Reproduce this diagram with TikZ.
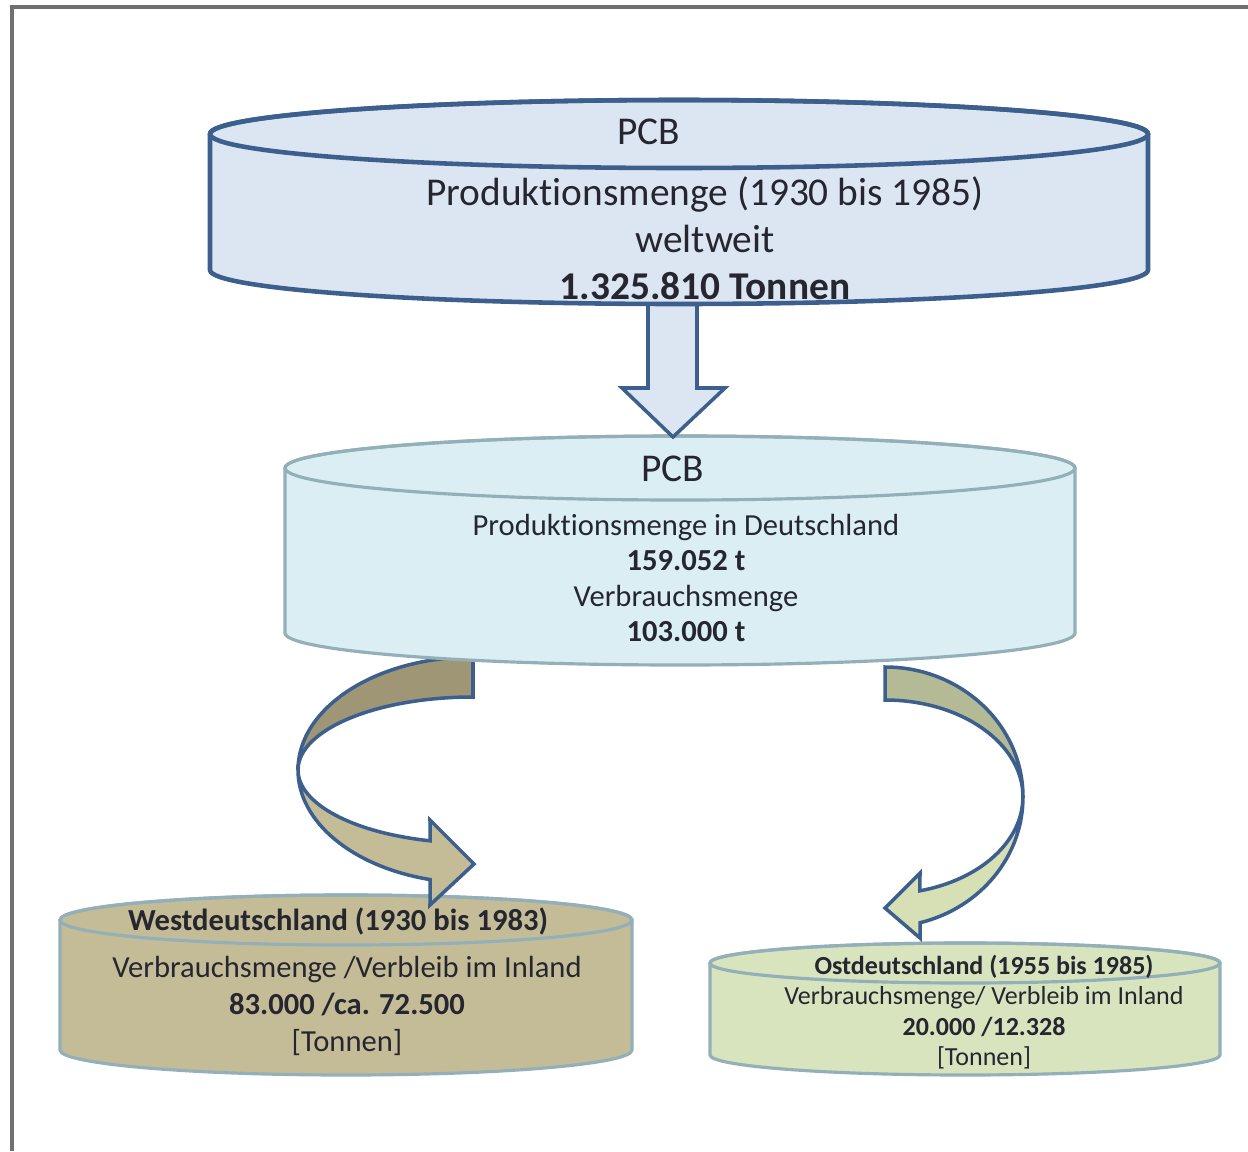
\documentclass[tikz,border=0pt]{standalone}
\usepackage{fontspec}
\setmainfont{Carlito}[Ligatures=NoCommon]
\usetikzlibrary{calc}

\definecolor{framegray}{HTML}{707070}
\definecolor{weltfill}{HTML}{DCE6F2}
\definecolor{weltline}{HTML}{3C5F8D}
\definecolor{deutschfill}{HTML}{DBEEF4}
\definecolor{drumline}{HTML}{93AFB8}
\definecolor{westfill}{HTML}{C4BC96}
\definecolor{ostfill}{HTML}{D7E4BD}
\definecolor{westback}{HTML}{9F9676}
\definecolor{ostback}{HTML}{B4BA95}
\definecolor{ostfront}{HTML}{D6E0B4}
\definecolor{txt}{HTML}{262630}

\tikzstyle{drumtext} = [align=center, inner sep=0pt, text=txt]
\tikzstyle{bigtext} = [drumtext, font={\fontsize{11.2}{13.3}\selectfont}]
\tikzstyle{midtext} = [drumtext, font={\fontsize{8.7}{10.1}\selectfont}]
\tikzstyle{westtext} = [drumtext, font={\fontsize{8.7}{10.4}\selectfont}]
\tikzstyle{smalltext} = [drumtext, font={\fontsize{7.4}{8.6}\selectfont}]
\tikzstyle{blockarrow} = [draw=weltline, line width=1pt, line join=miter]

% cylinder: centre x, top y, bottom y, x radius, y radius, fill, line, width
\newcommand{\pcbdrum}[8]{%
  \filldraw[fill=#6, draw=#7, line width=#8]
    (#1-#4,#2) -- (#1-#4,#3) arc[start angle=180, end angle=0, x radius=#4, y radius=#5]
    -- (#1+#4,#2) arc[start angle=0, end angle=-180, x radius=#4, y radius=#5] -- cycle;
  \draw[draw=#7, line width=#8] (#1,#2) ellipse [x radius=#4, y radius=#5];
}

\begin{document}
\begin{tikzpicture}[x=0.01cm, y=-0.01cm]
  \useasboundingbox (0,0) rectangle (1248,1151);
  \draw[framegray, line width=0.9pt] (12,1151) -- (12,7) -- (1248,7);

  % lower drums
  \pcbdrum{346}{920}{1050}{286}{25}{westfill}{drumline}{0.9pt}
  \pcbdrum{965}{963}{1055}{255}{20}{ostfill}{drumline}{0.9pt}

  % curved arrows
  \filldraw[blockarrow, fill=westback] (473,657)
    arc[start angle=270, end angle=180, x radius=175, y radius=113]
    arc[start angle=180, end angle=270, x radius=175, y radius=73] -- cycle;
  \filldraw[blockarrow, fill=westfill] (298,770)
    arc[start angle=180, end angle=104.2, x radius=175, y radius=113]
    -- (430,905) -- (474,864) -- (430,820) -- (430.1,840.8)
    arc[start angle=104.2, end angle=180, x radius=175, y radius=73] -- cycle;
  \filldraw[blockarrow, fill=ostback] (885,667)
    arc[start angle=270, end angle=360, x radius=138, y radius=130]
    arc[start angle=0, end angle=-90, x radius=138, y radius=97] -- cycle;
  \filldraw[blockarrow, fill=ostfront] (1023,797)
    arc[start angle=0, end angle=75.3, x radius=138, y radius=130]
    -- (920,938) -- (885,908) -- (920,873) -- (919.9,890.8)
    arc[start angle=75.3, end angle=0, x radius=138, y radius=97] -- cycle;

  % middle drum and down arrow
  \pcbdrum{680}{468}{633}{395}{32}{deutschfill}{drumline}{0.9pt}
  \filldraw[blockarrow, fill=weltfill] (648,290) -- (648,388) -- (622,388) -- (673,437)
    -- (725,388) -- (697,388) -- (697,290) -- cycle;

  % top drum
  \pcbdrum{679}{134}{270}{469}{34}{weltfill}{weltline}{1.3pt}

  % texts
  \node[bigtext] (weltpcb) at (649,132) {PCB};
  \node[bigtext] (welt) at (705,238) {Produktionsmenge (1930 bis 1985)\\weltweit\\\textbf{1.325.810 Tonnen}};
  \node[bigtext] (deutschpcb) at (673,469) {PCB};
  \node[midtext] (deutsch) at (686,578) {Produktionsmenge in Deutschland\\\textbf{159.052 t}\\Verbrauchsmenge\\\textbf{103.000 t}};
  \node[westtext] (westtitel) at (338,921) {\textbf{Westdeutschland (1930 bis 1983)}};
  \node[westtext] (west) at (347,1006) {Verbrauchsmenge /Verbleib im Inland\\\textbf{83.000 /ca. 72.500}\\{[Tonnen]}};
  \node[smalltext] (ost) at (984,1012) {\textbf{Ostdeutschland (1955 bis 1985)}\\Verbrauchsmenge/ Verbleib im Inland\\\textbf{20.000 /12.328}\\{[Tonnen]}};
\end{tikzpicture}
\end{document}
